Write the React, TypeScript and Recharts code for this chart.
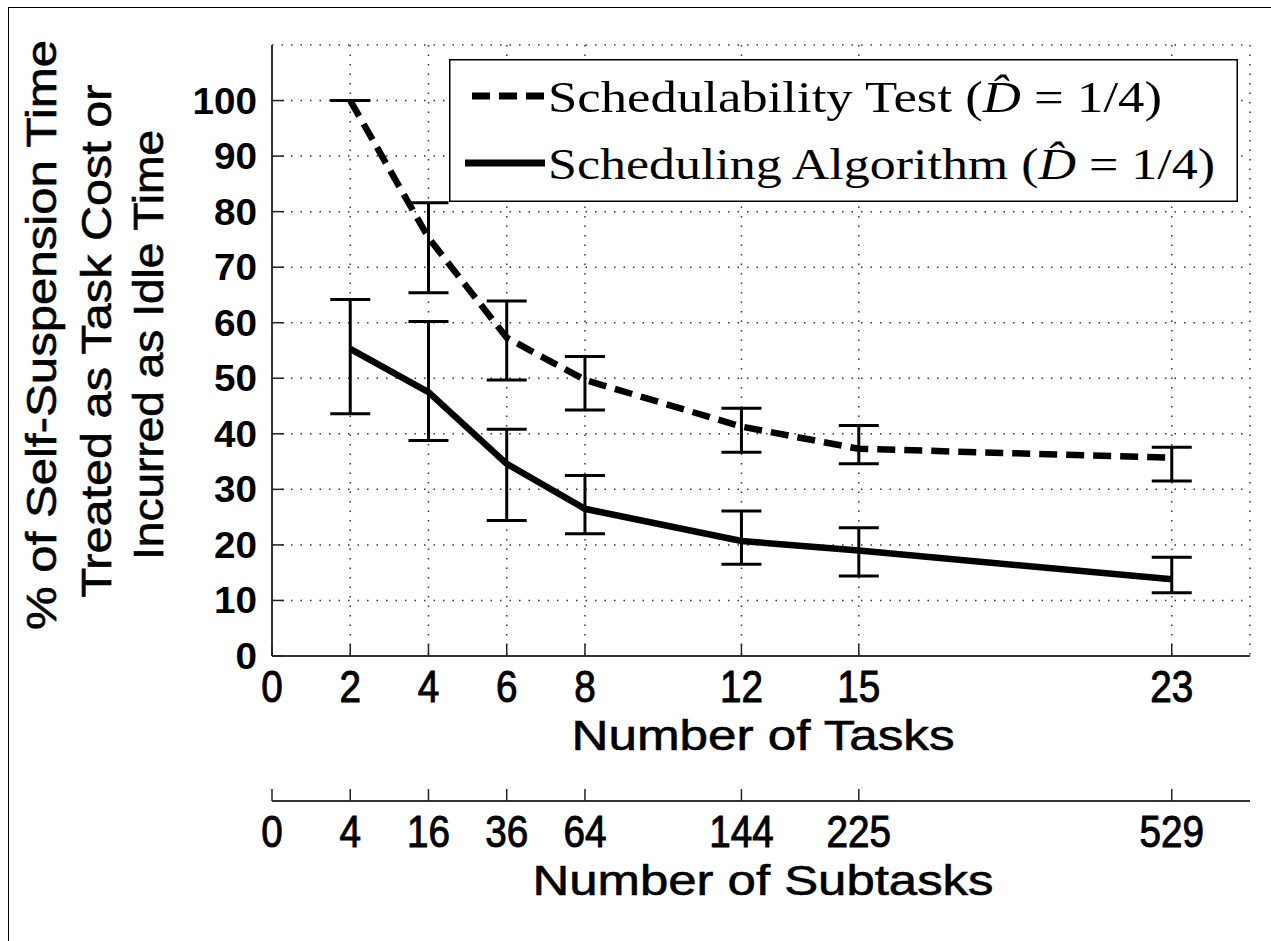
import React from "react";
import {
  LineChart,
  Line,
  XAxis,
  YAxis,
  CartesianGrid,
  ErrorBar,
  Legend,
} from "recharts";

// number of tasks and the matching number of subtasks
const tasks = [2, 4, 6, 8, 12, 15, 23];
const taskTicks = [0, 2, 4, 6, 8, 12, 15, 23];
const subtaskLabels = ["0", "4", "16", "36", "64", "144", "225", "529"];
const yTicks = [0, 10, 20, 30, 40, 50, 60, 70, 80, 90, 100];

// schedulability test (dashed)
const testMean = [100, 75.3, 57.3, 49.7, 41.3, 37.3, 35.7];
const testLow = [100, 65.4, 49.7, 44.3, 36.7, 34.6, 31.5];
const testHigh = [100, 81.6, 63.9, 53.9, 44.6, 41.5, 37.6];

// scheduling algorithm (solid)
const algMean = [55.3, 47.5, 34.6, 26.5, 20.7, 19.0, 13.8];
const algLow = [43.6, 38.8, 24.4, 22.0, 16.5, 14.4, 11.4];
const algHigh = [64.2, 60.2, 40.8, 32.5, 26.1, 23.1, 17.8];

const param = " = 1/4)";

const data = tasks.map((t, i) => ({
  tasks: t,
  test: testMean[i],
  testErr: [testMean[i] - testLow[i], testHigh[i] - testMean[i]],
  alg: algMean[i],
  algErr: [algMean[i] - algLow[i], algHigh[i] - algMean[i]],
}));

const sans = "'Liberation Sans', Arial, Helvetica, sans-serif";
const serif = "'Liberation Serif', 'Times New Roman', serif";

const dashStyle: Record<string, string | undefined> = {
  test: "18 9",
  alg: undefined,
};

function YTick(props: any) {
  const { x, y, payload } = props;
  const s = String(payload.value);
  return (
    <g>
      <line x1={x} y1={y} x2={x + 12} y2={y} stroke="#222" strokeWidth={1.5} />
      <text
        x={x - 15}
        y={y + 13}
        textAnchor="end"
        fontFamily={sans}
        fontWeight="bold"
        fontSize={36}
        textLength={s.length * 21.5}
        lengthAdjust="spacingAndGlyphs"
        fill="#000"
      >
        {s}
      </text>
    </g>
  );
}

function XTick(props: any) {
  const { x, y, payload, index, labels } = props;
  const s = labels ? labels[index] : String(payload.value);
  return (
    <g>
      <line x1={x} y1={y} x2={x} y2={y - 12} stroke="#222" strokeWidth={1.5} />
      <text
        x={x}
        y={y + 46}
        textAnchor="middle"
        fontFamily={sans}
        fontSize={45}
        textLength={s.length * 21.5}
        lengthAdjust="spacingAndGlyphs"
        stroke="#000"
        strokeWidth={1}
        fill="#000"
      >
        {s}
      </text>
    </g>
  );
}

function LegendBox(props: any) {
  const { payload } = props;
  return (
    <svg width={789} height={143} style={{ display: "block" }}>
      <rect x={0.75} y={0.75} width={787.5} height={141.5} fill="#fff" stroke="#000" strokeWidth={1.5} />
      {(payload || []).map((entry: any, i: number) => {
        const cy = 37 + i * 67;
        const dash = dashStyle[entry.dataKey];
        return (
          <g key={entry.dataKey}>
            <line
              x1={dash ? 23 : 16}
              y1={cy}
              x2={96}
              y2={cy}
              stroke="#000"
              strokeWidth={7}
              strokeDasharray={dash}
            />
            <text
              x={99}
              y={cy + 16}
              fontFamily={serif}
              fontSize={44}
              fill="#000"
              textLength={i === 0 ? 614 : 667}
              lengthAdjust="spacingAndGlyphs"
            >
              {entry.value + " ("}
              <tspan fontStyle="italic">{"D\u0302"}</tspan>
              {param}
            </text>
          </g>
        );
      })}
    </svg>
  );
}

export default function App() {
  return (
    <div style={{ position: "absolute", left: 0, top: 0, width: 1271, height: 941, background: "#fff" }}>
      <div
        style={{
          position: "absolute",
          left: 8,
          top: 7,
          width: 1300,
          height: 960,
          borderLeft: "1.5px solid #000",
          borderTop: "1.5px solid #000",
        }}
      />
      <div style={{ position: "absolute", left: 0, top: 0 }}>
        <LineChart
          width={1271}
          height={941}
          data={data}
          margin={{ top: 45, right: 21, left: 0, bottom: 0 }}
        >
          <CartesianGrid stroke="#333" strokeWidth={1.5} strokeDasharray="1.5 8" />
          <XAxis
            dataKey="tasks"
            type="number"
            domain={[0, 25]}
            ticks={taskTicks}
            interval={0}
            height={145}
            tickSize={0}
            tickMargin={0}
            tickLine={false}
            axisLine={{ stroke: "#333", strokeWidth: 2 }}
            tick={(p: any) => <XTick {...p} />}
          />
          <XAxis
            xAxisId="sub"
            dataKey="tasks"
            type="number"
            domain={[0, 25]}
            ticks={taskTicks}
            interval={0}
            height={140}
            tickSize={0}
            tickMargin={0}
            tickLine={false}
            axisLine={{ stroke: "#333", strokeWidth: 2 }}
            tick={(p: any) => <XTick {...p} labels={subtaskLabels} />}
          />
          <YAxis
            type="number"
            domain={[0, 110]}
            ticks={yTicks}
            interval={0}
            width={272}
            tickSize={0}
            tickMargin={0}
            tickLine={false}
            axisLine={{ stroke: "#333", strokeWidth: 2 }}
            tick={(p: any) => <YTick {...p} />}
          />
          <Legend
            layout="vertical"
            align="center"
            verticalAlign="middle"
            content={(p: any) => <LegendBox {...p} />}
            wrapperStyle={{ position: "absolute", left: 449, top: 59, width: 789, height: 143 }}
          />
          <Line
            dataKey="test"
            name="Schedulability Test"
            type="linear"
            stroke="#000"
            strokeWidth={6.5}
            strokeDasharray="18 9"
            dot={false}
            isAnimationActive={false}
          >
            <ErrorBar dataKey="testErr" width={20} stroke="#000" strokeWidth={3} isAnimationActive={false} />
          </Line>
          <Line
            dataKey="alg"
            name="Scheduling Algorithm"
            type="linear"
            stroke="#000"
            strokeWidth={6.5}
            dot={false}
            isAnimationActive={false}
          >
            <ErrorBar dataKey="algErr" width={20} stroke="#000" strokeWidth={3} isAnimationActive={false} />
          </Line>
        </LineChart>
      </div>
      <svg
        width={1271}
        height={941}
        style={{ position: "absolute", left: 0, top: 0, pointerEvents: "none" }}
      >
        <g fontFamily={sans} fontSize={42} fill="#000" stroke="#000" strokeWidth={0.6}>
          <text x={763} y={750} textAnchor="middle" textLength={383} lengthAdjust="spacingAndGlyphs">
            Number of Tasks
          </text>
          <text x={763} y={895} textAnchor="middle" textLength={461} lengthAdjust="spacingAndGlyphs">
            Number of Subtasks
          </text>
          <text
            transform="translate(56,335) rotate(-90)"
            textAnchor="middle"
            textLength={590}
            lengthAdjust="spacingAndGlyphs"
          >
            % of Self-Suspension Time
          </text>
          <text
            transform="translate(111,341) rotate(-90)"
            textAnchor="middle"
            textLength={513}
            lengthAdjust="spacingAndGlyphs"
          >
            Treated as Task Cost or
          </text>
          <text
            transform="translate(163,345) rotate(-90)"
            textAnchor="middle"
            textLength={430}
            lengthAdjust="spacingAndGlyphs"
          >
            Incurred as Idle Time
          </text>
        </g>
      </svg>
    </div>
  );
}
